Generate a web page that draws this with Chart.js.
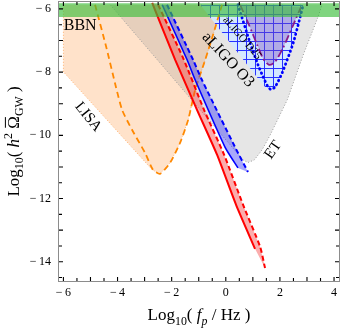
<!DOCTYPE html>
<html>
<head>
<meta charset="utf-8">
<script src="https://cdn.jsdelivr.net/npm/chart.js@4.4.1/dist/chart.umd.min.js"></script>
<style>
  html, body { margin: 0; padding: 0; background: #fff; }
  canvas { display: block; }
</style>
</head>
<body>
<canvas id="gwChart" width="341" height="328"></canvas>
<script>
// --- axes ---
const xRange = [-6.2, 4.22];
const yRange = [-14.64, -5.75];
const xTickLabels = [-6, -4, -2, 0, 2, 4];
const yTickLabels = [-14, -12, -10, -8, -6];

// --- BBN bound (horizontal band) ---
const bbnX = [-6.2, 4.22, 4.22, -6.2];
const bbnY = [-5.82, -5.82, -6.26, -6.26];

// --- LISA: shaded region and dashed PLS curve ---
const lisaRegionX = [-6.0, -6.0, -2.72, -2.43, -2.06, -1.69, -1.39, -1.13, -0.76, -0.47, -0.14];
const lisaRegionY = [-5.87, -7.99, -11.09, -11.22, -10.87, -10.24, -9.51, -8.56, -7.61, -6.82, -5.87];
const lisaCurveX = [-4.83, -4.42, -4.05, -3.83, -3.46, -2.98, -2.69, -2.43, -2.06, -1.69, -1.39, -1.13, -0.76, -0.47, -0.14];
const lisaCurveY = [-5.87, -7.20, -8.50, -9.20, -9.83, -10.56, -11.09, -11.22, -10.87, -10.24, -9.51, -8.56, -7.61, -6.82, -5.87];

// --- ET region ---
const etX = [-4.27, 0.64, 0.82, 1.05, 1.34, 1.64, 2.27, 2.86, 3.41, 3.56];
const etY = [-5.87, -10.78, -10.86, -10.78, -10.46, -9.99, -8.88, -7.46, -6.25, -5.87];

// --- aLIGO O3: hatched region and dotted curve ---
const o3RegionX = [-0.94, 1.34, 1.49, 1.64, 1.82, 2.08, 2.49, 2.75, 2.86];
const o3RegionY = [-5.87, -8.37, -8.50, -8.53, -8.47, -8.03, -7.08, -6.25, -5.87];
const o3CurveX = [0.45, 0.90, 1.19, 1.38, 1.56, 1.67, 1.82, 2.08, 2.49, 2.75, 2.86];
const o3CurveY = [-5.87, -7.08, -7.77, -8.15, -8.47, -8.55, -8.47, -8.03, -7.08, -6.25, -5.87];

// --- aLIGO design curve (purple) ---
const o5X = [0.53, 0.86, 1.16, 1.38, 1.60, 1.82, 2.12, 2.49, 2.78];
const o5Y = [-5.87, -6.51, -7.14, -7.58, -7.77, -7.68, -7.23, -6.51, -5.94];

// --- model predictions: red band ---
const redSolidX = [-2.72, -1.87, -1.06, -0.32, 0.38, 1.08];
const redSolidY = [-5.81, -7.61, -9.20, -10.62, -12.20, -13.59];
const redDashX = [-2.50, -1.58, -0.80, -0.06, 0.64, 1.27, 1.45];
const redDashY = [-5.87, -7.55, -9.20, -10.62, -12.20, -13.53, -14.20];

// --- model predictions: blue band ---
const blueSolidX = [-2.35, -1.43, -1.13, -0.03, 0.45];
const blueSolidY = [-5.87, -7.61, -8.25, -10.37, -11.03];
const blueDashX = [-2.17, -1.21, -0.88, 0.34, 0.82];
const blueDashY = [-5.87, -7.61, -8.25, -10.37, -11.16];

// --- text labels inside the plot ---
const plotLabels = [
    { text: 'BBN', x: -5.38, y: -6.52, size: 16, angle: 0 },
    { text: 'LISA', x: -5.09, y: -9.42, size: 15, angle: 51 },
    { text: 'aLIGO O3', x: 0.08, y: -7.61, size: 16, angle: 47 },
    { text: 'aLIGO D25', x: 0.60, y: -6.92, size: 11, angle: 49 },
    { text: 'ET', x: 1.75, y: -10.46, size: 15, angle: -55 }
];

const FONT = '"Liberation Serif", "DejaVu Serif", serif';
const pts = (xs, ys) => xs.map((x, i) => ({ x, y: ys[i] }));
const canvas = document.getElementById('gwChart');
const ctx = canvas.getContext('2d');

function makeHatch() {
    const c = document.createElement('canvas');
    c.width = 9; c.height = 9;
    const g = c.getContext('2d');
    g.fillStyle = 'rgb(212,232,255)';
    g.fillRect(0, 0, 9, 9);
    g.fillStyle = 'rgb(40,50,255)';
    g.fillRect(3, 0, 1, 9);
    g.fillRect(0, 5, 9, 1);
    return ctx.createPattern(c, 'repeat');
}

function region(xs, ys, bg, border, dash, order) {
    return {
        data: pts(xs, ys), backgroundColor: bg, fill: 'shape',
        borderColor: border || 'rgba(0,0,0,0)', borderWidth: border ? 1 : 0,
        borderDash: dash || [], pointRadius: 0, tension: 0, order
    };
}

function curve(xs, ys, color, width, dash, order, extra) {
    return Object.assign({
        data: pts(xs, ys), borderColor: color, borderWidth: width,
        borderDash: dash || [], fill: false, pointRadius: 0, tension: 0.2, order
    }, extra || {});
}

function drawRich(c, runs, cx, cy, size, angle) {
    const fontFor = r => `${r.it ? 'italic ' : ''}${(r.sub || r.sup) ? size * 0.7 : size}px ${FONT}`;
    let total = 0;
    runs.forEach(r => { c.font = fontFor(r); r.w = c.measureText(r.t).width; total += r.w; });
    c.save();
    c.translate(cx, cy);
    c.rotate(angle);
    c.fillStyle = '#000';
    c.textAlign = 'left';
    c.textBaseline = 'alphabetic';
    let xx = -total / 2;
    runs.forEach(r => {
        c.font = fontFor(r);
        const dy = r.sub ? size * 0.28 : (r.sup ? -size * 0.38 : 0);
        c.fillText(r.t, xx, dy);
        if (r.bar) c.fillRect(xx + 1, -size * 0.8, r.w - 2, 1);
        xx += r.w;
    });
    c.restore();
}

const decorations = {
    id: 'decorations',
    afterDraw(chart) {
        const c = chart.ctx;
        const a = chart.chartArea;
        const xs = chart.scales.x, ys = chart.scales.y;
        c.save();

        // labels on regions
        plotLabels.forEach(l => {
            c.save();
            c.translate(xs.getPixelForValue(l.x), ys.getPixelForValue(l.y));
            c.rotate(l.angle * Math.PI / 180);
            c.font = `${l.size}px ${FONT}`;
            c.fillStyle = '#000';
            c.textAlign = 'center';
            c.textBaseline = 'middle';
            c.fillText(l.text, 0, 0);
            c.restore();
        });

        // frame
        c.strokeStyle = '#8c8c8c';
        c.lineWidth = 1;
        c.strokeRect(a.left + 0.5, a.top + 0.5, a.right - a.left - 1, a.bottom - a.top - 1);

        // inward ticks on all four sides
        c.strokeStyle = '#000';
        c.lineWidth = 1.1;
        c.beginPath();
        for (let v = -6; v <= 4.001; v += 0.5) {
            const px = xs.getPixelForValue(v);
            const len = Number.isInteger(v) ? 4 : 3;
            c.moveTo(px, a.bottom - 1); c.lineTo(px, a.bottom - 1 - len);
            c.moveTo(px, a.top + 1); c.lineTo(px, a.top + 1 + len);
        }
        for (let v = -14.5; v <= -5.999; v += 0.5) {
            const py = ys.getPixelForValue(v);
            const len = Number.isInteger(v) ? 4 : 3;
            c.moveTo(a.left + 1, py); c.lineTo(a.left + 1 + len, py);
            c.moveTo(a.right - 1, py); c.lineTo(a.right - 1 - len, py);
        }
        c.stroke();

        // axis titles
        drawRich(c, [
            { t: 'Log' }, { t: '10', sub: true }, { t: '( ' },
            { t: 'f', it: true }, { t: 'p', it: true, sub: true }, { t: ' / Hz )' }
        ], (a.left + a.right) / 2, 320, 17, 0);
        c.save();
        c.translate(18.5, (a.top + a.bottom) / 2);
        drawRich(c, [
            { t: 'Log' }, { t: '10', sub: true }, { t: '( ' },
            { t: 'h', it: true }, { t: '2', sup: true }, { t: ' ' },
            { t: '\u03A9', bar: true }, { t: 'GW', sub: true }, { t: ' )' }
        ], 0, 0, 17, -Math.PI / 2);
        c.restore();

        c.restore();
    }
};

const tickText = v => (v < 0 ? '\u2212\u2009' + Math.abs(v) : String(v));

new Chart(ctx, {
    type: 'line',
    data: {
        datasets: [
            region(bbnX, bbnY, 'rgba(60,190,60,0.65)', null, null, 1),
            curve(redSolidX, redSolidY, '#ff0000', 2, [], 2),
            curve(redDashX, redDashY, '#ff0000', 2, [5, 3], 2),
            curve(blueSolidX, blueSolidY, '#0000ff', 1.6, [], 3),
            curve(blueDashX, blueDashY, '#0000ff', 2, [5, 3], 3),
            region([...redSolidX, ...redDashX.slice().reverse()], [...redSolidY, ...redDashY.slice().reverse()],
                'rgba(245,60,60,0.42)', null, null, 4),
            region([...blueSolidX, ...blueDashX.slice().reverse()], [...blueSolidY, ...blueDashY.slice().reverse()],
                'rgba(50,50,245,0.42)', null, null, 4),
            curve(lisaCurveX, lisaCurveY, '#ff8800', 1.8, [6, 4], 5),
            curve(o3CurveX, o3CurveY, '#0000ff', 2.8, [0.5, 4], 5, { borderCapStyle: 'round' }),
            curve(o5X, o5Y, '#8b1a8b', 1.8, [8, 3, 2, 3], 5),
            region(o5X, o5Y, 'rgba(120,70,190,0.38)', null, null, 6),
            region(o3RegionX, o3RegionY, makeHatch(), null, null, 7),
            region(etX, etY, 'rgba(128,128,128,0.2)', '#9a9a9a', [1, 2], 8),
            region(lisaRegionX, lisaRegionY, 'rgba(255,160,80,0.3)', '#ffb070', [1, 2], 9)
        ]
    },
    options: {
        responsive: false,
        animation: false,
        devicePixelRatio: 1,
        layout: { padding: { top: 1, right: 1, left: 0, bottom: 0 } },
        plugins: { legend: { display: false }, tooltip: { enabled: false } },
        scales: {
            x: {
                type: 'linear', min: xRange[0], max: xRange[1],
                grid: { display: false, drawTicks: false },
                border: { display: false },
                afterBuildTicks: s => { s.ticks = xTickLabels.map(v => ({ value: v })); },
                afterFit: s => { s.height = 46; s.paddingLeft = 0; s.paddingRight = 0; },
                ticks: {
                    color: '#000', padding: 4, maxRotation: 0, autoSkip: false,
                    font: { family: FONT, size: 12 },
                    callback: tickText
                }
            },
            y: {
                type: 'linear', min: yRange[0], max: yRange[1],
                grid: { display: false, drawTicks: false },
                border: { display: false },
                afterBuildTicks: s => { s.ticks = yTickLabels.map(v => ({ value: v })); },
                afterFit: s => { s.width = 58; s.paddingTop = 0; s.paddingBottom = 0; },
                ticks: {
                    color: '#000', padding: 7, autoSkip: false,
                    font: { family: FONT, size: 12 },
                    callback: tickText
                }
            }
        }
    },
    plugins: [decorations]
});
</script>
</body>
</html>
